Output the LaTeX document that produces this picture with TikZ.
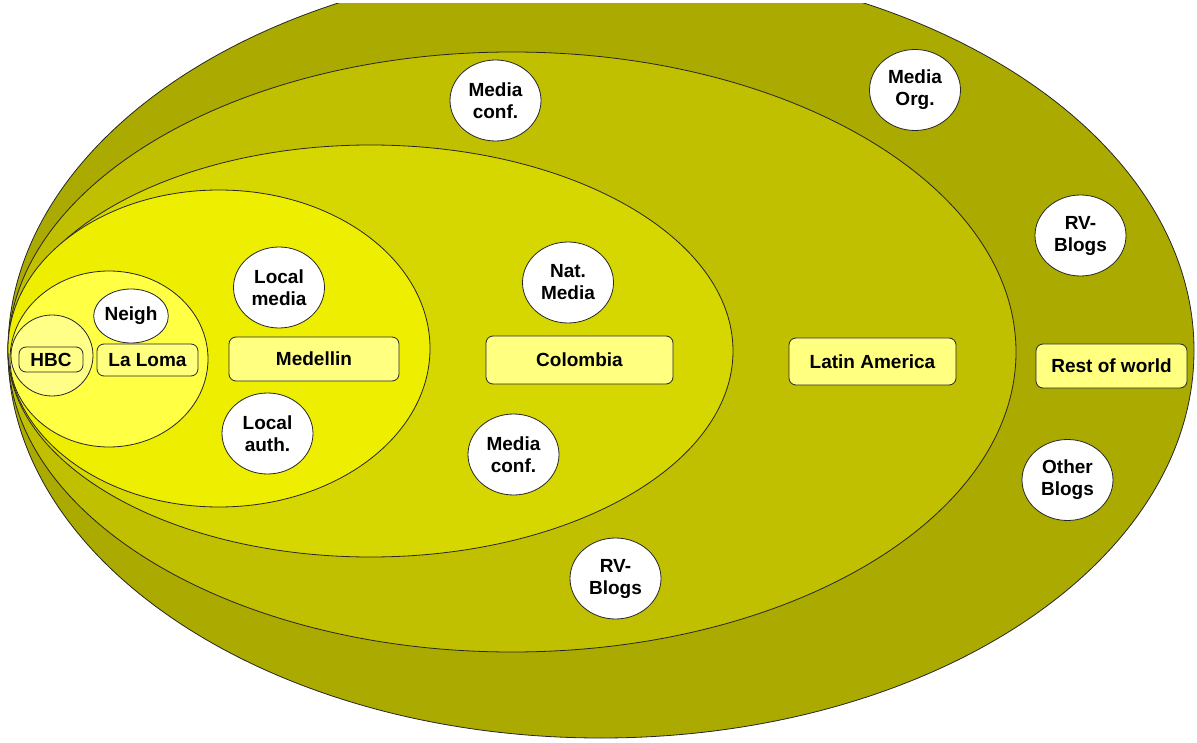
\documentclass[tikz,border=0pt]{standalone}
\usepackage{fontspec}
\setmainfont{Liberation Sans}
\usetikzlibrary{shapes.geometric}
\definecolor{worldfill}{HTML}{AAAA00}
\definecolor{latamfill}{HTML}{C0C000}
\definecolor{colfill}{HTML}{D6D600}
\definecolor{medfill}{HTML}{EEEE00}
\definecolor{lomafill}{HTML}{FFFF44}
\definecolor{hbcfill}{HTML}{FFFF88}
\definecolor{boxfill}{HTML}{FFFF80}
\begin{document}
\begin{tikzpicture}[x=1pt, y=-1pt,
    region/.style ={ellipse, draw=black!85, line width=0.8pt, inner sep=0pt},
    actor/.style ={ellipse, draw=black!85, fill=white, line width=0.8pt, inner sep=0pt,
      minimum width=91pt, minimum height=81pt, align=center,
      font=\bfseries\fontsize{19}{22}\selectfont},
    place/.style ={rectangle, rounded corners=7pt, draw=black!85, fill=boxfill,
      line width=0.8pt, inner sep=0pt, font=\bfseries\fontsize{19}{22}\selectfont}]
   \useasboundingbox (0,0) rectangle (1197,743);
   % nested regions (the outer one runs off the top)
   \begin{scope}
     \clip (0,4) rectangle (1197,743);
     \node[region, fill=worldfill, minimum width=1186pt, minimum height=775pt] (world) at (601,350.5) {};
   \end{scope}
   \node[region, fill=latamfill, minimum width=1008pt, minimum height=600pt] (latam) at (512,352) {};
   \node[region, fill=colfill, minimum width=725pt, minimum height=412pt] (colombia) at (370.5,351) {};
   \node[region, fill=medfill, minimum width=422pt, minimum height=317pt] (medellin) at (219,348.5) {};
   \node[region, fill=lomafill, minimum width=198pt, minimum height=176pt] (laloma) at (109,359) {};
   \node[region, fill=hbcfill, minimum width=82pt, minimum height=81pt] (hbc) at (52,355.5) {};
   % labels of the regions
   \node[place, fill=hbcfill, minimum width=64pt, minimum height=25pt] (hbclbl) at (51,359.5) {HBC};
   \node[place, minimum width=101pt, minimum height=32pt] (lomalbl) at (147.5,360) {La Loma};
   \node[place, minimum width=170pt, minimum height=44pt] (medlbl) at (314,359) {Medellin};
   \node[place, minimum width=187pt, minimum height=48pt] (collbl) at (579.5,360) {Colombia};
   \node[place, minimum width=167pt, minimum height=47pt] (latamlbl) at (872.5,361.5) {Latin America};
   \node[place, minimum width=151pt, minimum height=44pt] (worldlbl) at (1111.5,366) {Rest of world};
   % actors
   \node[actor, minimum width=74pt, minimum height=54pt] (neigh) at (131,316) {Neigh};
   \node[actor] (locmedia) at (279,287.5) {Local\\media};
   \node[actor] (locauth) at (267.5,433.5) {Local\\auth.};
   \node[actor] (natmedia) at (568,282.5) {Nat.\\Media};
   \node[actor] (confcol) at (513.5,454.5) {Media\\conf.};
   \node[actor] (conflatam) at (495.5,100.5) {Media\\conf.};
   \node[actor] (blogslatam) at (615.5,578.5) {RV-\\Blogs};
   \node[actor] (mediaorg) at (915,90) {Media\\Org.};
   \node[actor] (blogsworld) at (1080.5,235.5) {RV-\\Blogs};
   \node[actor] (otherblogs) at (1067.5,480) {Other\\Blogs};
\end{tikzpicture}
\end{document}
